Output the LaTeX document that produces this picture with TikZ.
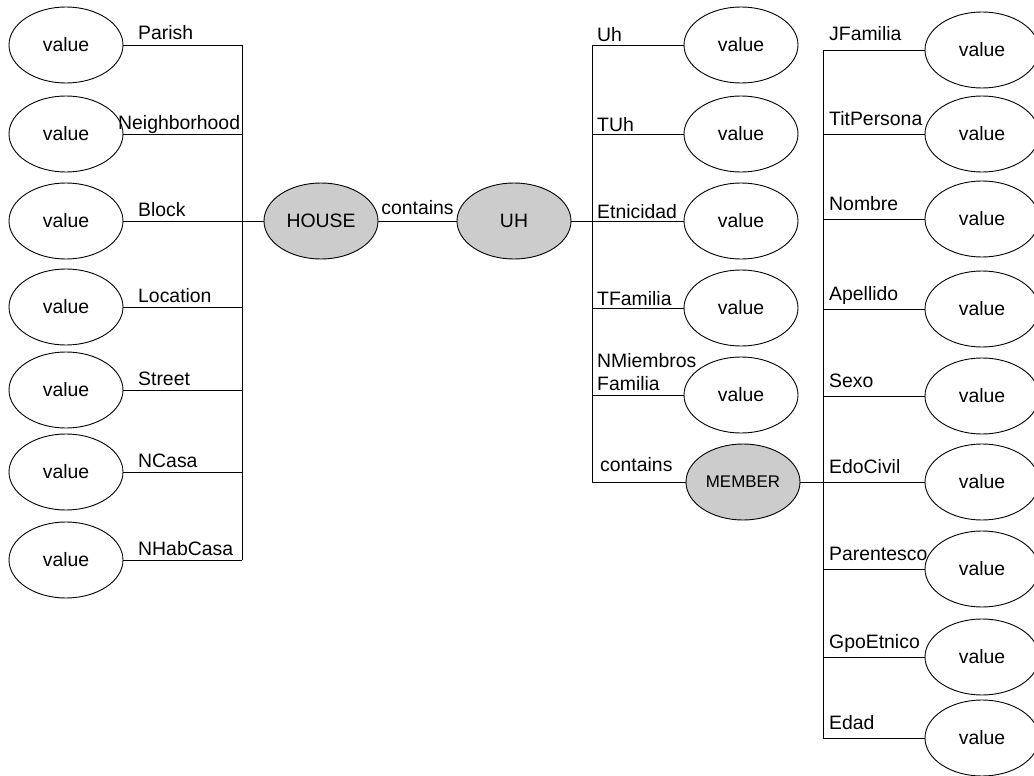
\documentclass[tikz,border=0pt]{standalone}
\usepackage{fontspec}
\setmainfont{Liberation Sans}
\usetikzlibrary{shapes.geometric,positioning}

\begin{document}
\begin{tikzpicture}[x=1pt, y=-1pt,
    attr/.style={ellipse, draw, line width=0.9pt, minimum width=114pt, minimum height=76pt, inner sep=0pt, font=\fontsize{19.4}{23}\selectfont},
    entity/.style={attr, fill=gray!40},
    lbl/.style={anchor=base west, inner sep=0pt, font=\fontsize{19.4}{23}\selectfont},
    conn/.style={line width=0.9pt}
  ]
    \useasboundingbox (0,0) rectangle (1034,776);

    % Entities
    \node[entity] (house) at (321,221) {HOUSE};
    \node[entity] (uh) at (514,221) {UH};
    \node[entity, font=\fontsize{16.9}{20}\selectfont] (member) at (743,482) {MEMBER};

    % HOUSE attributes
    \foreach \name/\txt/\y/\lx in {parish/Parish/45/138, neigh/Neighborhood/134/118, block/Block/221/138,
        loc/Location/307/138, street/Street/390/138, ncasa/NCasa/472/138, nhab/NHabCasa/560/138}{
      \node[attr] (v-\name) at (66,\y) {value};
      \coordinate (b-\name) at (242,\y);
      \node[lbl] at (\lx,\y-5) {\txt};
      \draw[conn] (v-\name) -- (b-\name);
    }
    \draw[conn] (b-parish) -- (b-nhab);
    \draw[conn] (b-block) -- (house);

    % HOUSE contains UH
    \draw[conn] (house) -- (uh) node[midway, anchor=base, yshift=7pt, inner sep=0pt, font=\fontsize{19.4}{23}\selectfont] {contains};

    % UH attributes
    \foreach \name/\txt/\y in {uhid/Uh/45, tuh/TUh/134, etn/Etnicidad/221, tfam/TFamilia/308, nmf//395}{
      \node[attr] (u-\name) at (741,\y) {value};
      \coordinate (c-\name) at (592,\y);
      \node[lbl] at (597,\y-3) {\txt};
      \draw[conn] (u-\name) -- (c-\name);
    }
    \node[lbl, anchor=south west, align=left] at (597,395-4) {NMiembros\\Familia};
    \coordinate (c-mem) at (592,482);
    \node[lbl] at (600,482-11) {contains};
    \draw[conn] (c-uhid) -- (c-mem) -- (member);
    \draw[conn] (uh) -- (c-etn);

    % MEMBER attributes
    \foreach \name/\txt/\y in {jfam/JFamilia/50, tit/TitPersona/134, nom/Nombre/219, ape/Apellido/309, sexo/Sexo/396,
        edo/EdoCivil/482, par/Parentesco/569, gpo/GpoEtnico/657, edad/Edad/738}{
      \node[attr] (m-\name) at (982,\y) {value};
      \coordinate (d-\name) at (823,\y);
      \node[lbl] at (829,\y-9) {\txt};
      \draw[conn] (m-\name) -- (d-\name);
    }
    \draw[conn] (d-jfam) -- (d-edad);
    \draw[conn] (member) -- (d-edo);
  \end{tikzpicture}
\end{document}
